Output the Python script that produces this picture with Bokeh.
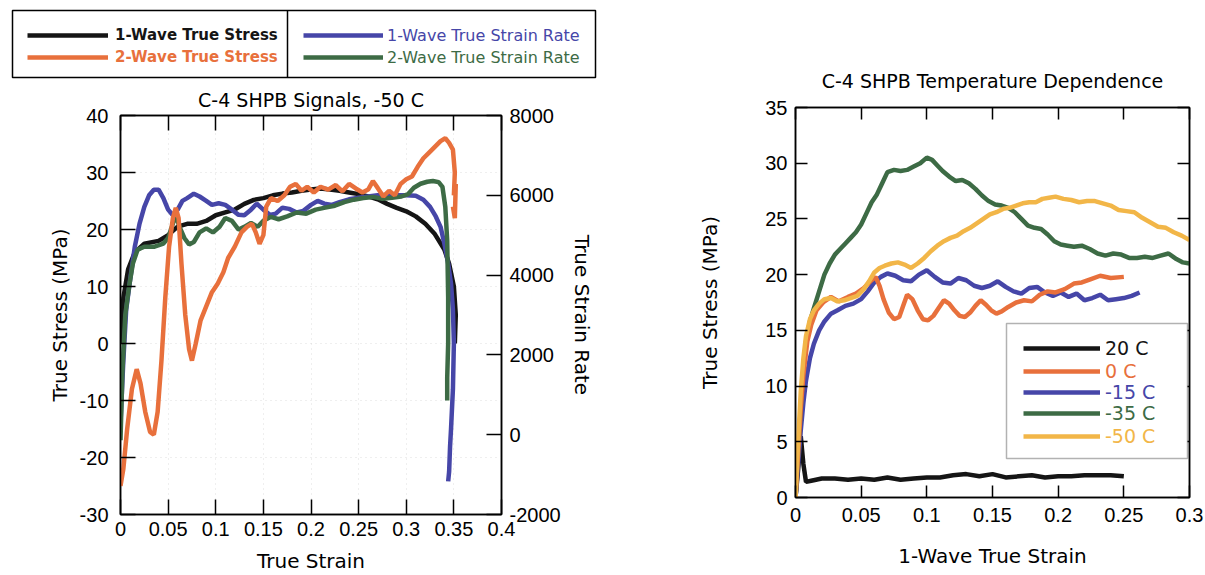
from bokeh.plotting import figure
from bokeh.models import (Range1d, LinearAxis, FixedTicker, CustomJSTickFormatter,
                          Legend, LegendItem, BoxAnnotation, Span)
from bokeh.layouts import row, column
from bokeh.embed import file_html
from bokeh.resources import INLINE

# ---------------- data: left chart (C-4 SHPB Signals, -50 C) ----------------
strain_1w_stress = [0.0, 0.003, 0.008, 0.015, 0.025, 0.04, 0.05, 0.06, 0.07, 0.08, 0.09, 0.1, 0.11,
                    0.12, 0.13, 0.14, 0.15, 0.16, 0.17, 0.18, 0.19, 0.2, 0.21, 0.22, 0.23, 0.24, 0.25,
                    0.26, 0.27, 0.28, 0.29, 0.3, 0.31, 0.32, 0.33, 0.34, 0.345, 0.35, 0.352, 0.351]
stress_1w = [0, 8, 13, 16, 17.5, 18, 19, 20.5, 21, 21, 21.5, 22.5, 23, 23.5, 24.5, 25.2, 25.5, 26,
             26.3, 26.5, 26.8, 27, 27.2, 27, 26.8, 26.5, 26.2, 25.8, 25.3, 24.5, 23.8, 23.2, 22.3,
             21, 19.2, 16.5, 14, 10, 5, 0]

strain_2w_stress = [0.0, 0.003, 0.007, 0.012, 0.017, 0.021, 0.026, 0.031, 0.035, 0.039, 0.043, 0.047,
                    0.051, 0.055, 0.058, 0.061, 0.064, 0.068, 0.072, 0.075, 0.079, 0.084, 0.09, 0.096,
                    0.102, 0.108, 0.113, 0.12, 0.127, 0.133, 0.138, 0.142, 0.146, 0.15, 0.153, 0.158,
                    0.165, 0.172, 0.178, 0.184, 0.19, 0.196, 0.203, 0.21, 0.218, 0.226, 0.233, 0.24,
                    0.247, 0.254, 0.26, 0.265, 0.27, 0.276, 0.282, 0.288, 0.294, 0.3, 0.306, 0.312,
                    0.318, 0.324, 0.33, 0.336, 0.341, 0.345, 0.349, 0.351, 0.35, 0.352, 0.351, 0.349]
stress_2w = [-25, -22, -15, -8, -4.5, -7, -12, -15.5, -16, -12, -3, 8, 17, 22, 23.8, 22, 14, 5, -1,
             -3, 0, 4, 6.5, 9, 10.5, 12.5, 15, 17, 19.5, 20.5, 21, 19.5, 17.5, 19, 24, 25.5, 25, 26,
             27.5, 28, 26.8, 27.5, 26.5, 27.5, 27, 27.8, 26.7, 28, 27.2, 26.5, 27, 28.5, 27.3, 25.8,
             26.8, 26, 28, 28.8, 29.3, 31, 32.5, 33.5, 34.5, 35.5, 36, 35.2, 34, 30, 26, 28, 22, 24]

strain_1w_rate = [0, 0.003, 0.006, 0.01, 0.015, 0.02, 0.025, 0.03, 0.035, 0.04, 0.045, 0.05, 0.055,
                  0.06, 0.065, 0.07, 0.077, 0.083, 0.09, 0.096, 0.103, 0.11, 0.117, 0.124, 0.13,
                  0.137, 0.143, 0.15, 0.157, 0.163, 0.17, 0.177, 0.185, 0.192, 0.2, 0.207, 0.214,
                  0.222, 0.23, 0.24, 0.25, 0.26, 0.27, 0.28, 0.29, 0.3, 0.31, 0.318, 0.325, 0.331,
                  0.336, 0.34, 0.344, 0.347, 0.349, 0.35, 0.349, 0.347, 0.346, 0.345, 0.344]
rate_1w = [290, 1860, 3140, 3860, 4710, 5290, 5710, 6000, 6140, 6140, 5930, 5640, 5500, 5640, 5860,
           5930, 6040, 5970, 5860, 5760, 5800, 5760, 5640, 5510, 5500, 5640, 5790, 5640, 5510, 5540,
           5690, 5660, 5570, 5610, 5760, 5860, 5790, 5760, 5830, 5900, 5940, 5970, 6000, 6010, 6000,
           6000, 5990, 5890, 5710, 5470, 5210, 4790, 4290, 3790, 3140, 2290, 1140, 140, -290, -930,
           -1170]

strain_2w_rate = [0, 0.002, 0.005, 0.009, 0.013, 0.018, 0.025, 0.035, 0.045, 0.05, 0.055, 0.058,
                  0.062, 0.067, 0.072, 0.077, 0.083, 0.09, 0.097, 0.104, 0.11, 0.117, 0.124, 0.13,
                  0.137, 0.144, 0.15, 0.158, 0.166, 0.175, 0.185, 0.195, 0.205, 0.215, 0.225, 0.235,
                  0.245, 0.255, 0.265, 0.275, 0.285, 0.295, 0.302, 0.308, 0.315, 0.322, 0.328, 0.334,
                  0.338, 0.341, 0.343, 0.344, 0.344, 0.343, 0.343]
rate_2w = [-140, 1570, 3000, 3710, 4290, 4640, 4710, 4710, 4790, 4930, 5290, 5500, 5210, 4930, 4770,
           4830, 5070, 5170, 5070, 5210, 5430, 5360, 5140, 5210, 5310, 5210, 5360, 5460, 5400, 5470,
           5570, 5540, 5640, 5690, 5740, 5830, 5890, 5930, 5960, 5910, 5940, 5970, 6030, 6190, 6290,
           6340, 6360, 6330, 6210, 5710, 4860, 3430, 2290, 1430, 860]

left_x_ticks = [0, 0.05, 0.1, 0.15, 0.2, 0.25, 0.3, 0.35, 0.4]
left_y_ticks = [-30, -20, -10, 0, 10, 20, 30, 40]
rate_ticks = [-2000, 0, 2000, 4000, 6000, 8000]

# ---------------- data: right chart (temperature dependence) ----------------
strain_20 = [0, 0.002, 0.004, 0.006, 0.008, 0.012, 0.02, 0.03, 0.04, 0.05, 0.06, 0.07, 0.08, 0.09,
             0.1, 0.11, 0.12, 0.13, 0.14, 0.15, 0.16, 0.17, 0.18, 0.19, 0.2, 0.21, 0.22, 0.23, 0.24, 0.25]
stress_20 = [0, 2.5, 5.5, 3.0, 1.4, 1.5, 1.7, 1.7, 1.6, 1.7, 1.6, 1.8, 1.6, 1.7, 1.8, 1.8, 2.0, 2.1,
             1.9, 2.1, 1.8, 1.9, 2.0, 1.8, 1.9, 1.9, 2.0, 2.0, 2.0, 1.9]

strain_0 = [0, 0.002, 0.004, 0.006, 0.009, 0.012, 0.016, 0.021, 0.027, 0.033, 0.04, 0.046, 0.052,
            0.057, 0.061, 0.064, 0.067, 0.071, 0.075, 0.079, 0.082, 0.085, 0.089, 0.093, 0.097, 0.101,
            0.105, 0.109, 0.113, 0.117, 0.121, 0.125, 0.129, 0.133, 0.137, 0.141, 0.145, 0.149,
            0.153, 0.157, 0.162, 0.168, 0.174, 0.18, 0.186, 0.192, 0.198, 0.205, 0.212, 0.218,
            0.225, 0.232, 0.24, 0.25]
stress_0 = [0, 4, 8, 11, 14, 15.5, 16.8, 17.5, 18, 17.6, 18, 18.3, 18.8, 19.4, 19.8, 19.0, 17.8, 16.6,
            16.0, 16.2, 17.2, 18.2, 17.8, 16.8, 16.0, 15.9, 16.3, 17.0, 17.7, 17.4, 16.8, 16.3, 16.2,
            16.6, 17.2, 17.7, 17.3, 16.8, 16.5, 16.7, 17.1, 17.5, 17.7, 17.6, 18.2, 18.5, 18.4, 18.7,
            19.2, 19.3, 19.6, 19.9, 19.7, 19.8]

strain_m15 = [0, 0.002, 0.004, 0.006, 0.008, 0.011, 0.014, 0.018, 0.022, 0.027, 0.032, 0.038, 0.044,
              0.05, 0.055, 0.06, 0.065, 0.07, 0.076, 0.082, 0.088, 0.094, 0.1, 0.106, 0.112, 0.118,
              0.124, 0.13, 0.136, 0.142, 0.148, 0.154, 0.16, 0.166, 0.172, 0.178, 0.184, 0.19, 0.196,
              0.202, 0.208, 0.214, 0.22, 0.226, 0.232, 0.238, 0.244, 0.25, 0.256, 0.262]
stress_m15 = [0, 3, 6, 8.5, 10.5, 12.5, 13.8, 15, 15.8, 16.5, 16.8, 17.2, 17.4, 17.8, 18.5, 19.3, 19.8,
              20.1, 19.9, 19.5, 19.4, 20.0, 20.4, 19.8, 19.3, 19.2, 19.7, 19.5, 19.0, 18.8, 19.0, 19.4,
              18.9, 18.5, 18.3, 18.8, 18.9, 18.4, 18.1, 18.4, 18.0, 18.3, 17.7, 17.9, 18.2, 17.7,
              17.8, 17.9, 18.1, 18.4]

strain_m35 = [0, 0.002, 0.004, 0.006, 0.008, 0.011, 0.014, 0.018, 0.022, 0.026, 0.03, 0.034, 0.038,
              0.042, 0.046, 0.05, 0.054, 0.058, 0.062, 0.066, 0.07, 0.075, 0.08, 0.085, 0.09, 0.095,
              0.1, 0.104, 0.108, 0.112, 0.117, 0.122, 0.127, 0.132, 0.137, 0.142, 0.147, 0.152, 0.157,
              0.162, 0.167, 0.172, 0.177, 0.182, 0.187, 0.192, 0.197, 0.202, 0.207, 0.212, 0.218,
              0.224, 0.23, 0.236, 0.242, 0.248, 0.254, 0.26, 0.266, 0.272, 0.278, 0.284, 0.29, 0.295, 0.3]
stress_m35 = [0, 4, 8, 11.5, 14, 15.8, 17, 18.5, 20, 21, 21.8, 22.3, 22.8, 23.3, 23.8, 24.5, 25.5,
              26.5, 27.2, 28.2, 29.2, 29.4, 29.3, 29.4, 29.7, 30.0, 30.5, 30.3, 29.8, 29.3, 28.8, 28.4,
              28.5, 28.2, 27.7, 27.1, 26.6, 26.3, 26.2, 26.0, 25.6, 25.0, 24.4, 24.2, 24.1, 23.6, 23.0,
              22.7, 22.6, 22.5, 22.6, 22.3, 21.9, 21.7, 21.9, 21.8, 21.5, 21.5, 21.6, 21.5, 21.7, 21.9,
              21.4, 21.1, 21.0]

strain_m50 = [0, 0.002, 0.004, 0.006, 0.008, 0.011, 0.014, 0.018, 0.022, 0.027, 0.032, 0.037, 0.042,
              0.047, 0.052, 0.056, 0.06, 0.064, 0.068, 0.073, 0.078, 0.083, 0.088, 0.093, 0.098, 0.103,
              0.108, 0.113, 0.118, 0.123, 0.128, 0.133, 0.138, 0.143, 0.148, 0.153, 0.158, 0.163,
              0.168, 0.173, 0.178, 0.183, 0.188, 0.193, 0.198, 0.204, 0.21, 0.216, 0.222, 0.228,
              0.234, 0.24, 0.246, 0.252, 0.258, 0.264, 0.27, 0.276, 0.282, 0.288, 0.294, 0.3]
stress_m50 = [0, 5, 9.5, 12.5, 14.5, 16, 16.8, 17.4, 17.8, 17.9, 17.6, 17.7, 17.9, 18.1, 18.7, 19.4,
              20.2, 20.6, 20.8, 21.0, 21.1, 20.9, 20.6, 21.0, 21.5, 22.1, 22.6, 23.0, 23.3, 23.5, 23.9,
              24.2, 24.6, 25.0, 25.4, 25.6, 25.9, 26.0, 26.2, 26.4, 26.5, 26.5, 26.8, 26.9, 27.0, 26.8,
              26.7, 26.5, 26.6, 26.6, 26.4, 26.2, 25.8, 25.7, 25.6, 25.1, 24.7, 24.3, 24.2, 23.8,
              23.5, 23.1]

right_x_ticks = [0, 0.05, 0.1, 0.15, 0.2, 0.25, 0.3]
right_y_ticks = [0, 5, 10, 15, 20, 25, 30, 35]

# ---------------- styling ----------------
NUM_FONT = "Liberation Sans"
TXT_FONT = "DejaVu Sans"
BLACK = "#151515"
ORANGE = "#E8703C"
BLUE = "#4646A8"
GREEN = "#3D6B45"
YELLOW = "#F2B648"
LW = 4.5
NAN = float("nan")

x_fmt_js = """
let s = tick.toFixed(2);
s = s.replace(/0+$/, '').replace(/\\.$/, '');
return s;
"""
y_fmt_js = "return String(tick);"


def no_align(fig):
    if "frame_align" in fig.properties():
        fig.frame_align = False


def style_axis(ax, tick_in, standoff, label_standoff=None, hide_labels=False):
    ax.major_tick_in = tick_in
    ax.major_tick_out = 0
    ax.minor_tick_line_color = None
    ax.axis_line_color = "black"
    ax.axis_line_width = 1.5
    ax.major_tick_line_color = "black"
    ax.major_tick_line_width = 1.5
    ax.major_label_text_font = NUM_FONT
    ax.major_label_standoff = standoff
    if hide_labels:
        ax.major_label_text_font_size = "1px"
        ax.major_label_text_color = None
        ax.major_label_text_alpha = 0
    else:
        ax.major_label_text_font_size = "20px"
        ax.major_label_text_color = "black"
    ax.axis_label_text_font = TXT_FONT
    ax.axis_label_text_font_style = "normal"
    ax.axis_label_text_font_size = "20px"
    ax.axis_label_text_color = "black"
    if label_standoff is not None:
        ax.axis_label_standoff = label_standoff


def single_legend(fig, renderer, label, color, x, y, glyph_w, standoff, size, bold=False):
    leg = Legend(items=[LegendItem(label=label, renderers=[renderer])], location=(x, y),
                 border_line_color=None, background_fill_color=None, background_fill_alpha=0,
                 padding=0, margin=0, spacing=0, glyph_width=glyph_w, glyph_height=20,
                 label_height=20, label_standoff=standoff, label_text_font=TXT_FONT,
                 label_text_font_size=size, label_text_color=color,
                 label_text_font_style="bold" if bold else "normal")
    fig.add_layout(leg)


# ---------------- legend panel above the left chart ----------------
leg_fig = figure(width=640, height=80, x_range=Range1d(0, 583), y_range=Range1d(0, 67),
                 x_axis_location=None, y_axis_location=None, toolbar_location=None,
                 output_backend="svg", min_border_left=12, min_border_right=45,
                 min_border_top=10, min_border_bottom=3)
no_align(leg_fig)
leg_fig.grid.visible = False
leg_fig.outline_line_color = "black"
leg_fig.outline_line_width = 1.5
# legend-only proxy renderers (a single undefined point draws nothing in the panel)
lr1 = leg_fig.line(x=[NAN], y=[NAN], line_color=BLACK, line_width=LW)
lr2 = leg_fig.line(x=[NAN], y=[NAN], line_color=ORANGE, line_width=LW)
lr3 = leg_fig.line(x=[NAN], y=[NAN], line_color=BLUE, line_width=LW)
lr4 = leg_fig.line(x=[NAN], y=[NAN], line_color=GREEN, line_width=LW)
leg_fig.add_layout(Span(location=275, dimension="height", line_color="black", line_width=1.5))
single_legend(leg_fig, lr1, "1-Wave True Stress", BLACK, 15, 32, 81, 7, "15px", bold=True)
single_legend(leg_fig, lr2, "2-Wave True Stress", ORANGE, 15, 10, 81, 7, "15px", bold=True)
single_legend(leg_fig, lr3, "1-Wave True Strain Rate", BLUE, 291, 32, 80, 4, "16px")
single_legend(leg_fig, lr4, "2-Wave True Strain Rate", GREEN, 291, 10, 80, 4, "16px")

# ---------------- left chart ----------------
p1 = figure(width=640, height=495, x_range=Range1d(0, 0.4), y_range=Range1d(-30, 40),
            toolbar_location=None, output_backend="svg",
            min_border_left=120, min_border_right=139, min_border_top=35, min_border_bottom=58,
            title="C-4 SHPB Signals, -50 C")
no_align(p1)
p1.extra_y_ranges = {"rate": Range1d(-2000, 8000)}
p1.xgrid.ticker = FixedTicker(ticks=left_x_ticks)
p1.ygrid.ticker = FixedTicker(ticks=left_y_ticks)
p1.grid.grid_line_color = "#c8c8c8"
p1.grid.grid_line_dash = "1 4"
p1.grid.grid_line_alpha = 0.6
p1.outline_line_color = "black"
p1.outline_line_width = 1.5
p1.title.align = "center"
p1.title.text_font = TXT_FONT
p1.title.text_font_size = "19px"
p1.title.text_font_style = "normal"
p1.title.text_color = "black"
p1.title.standoff = 10

ax_b = p1.below[0]
ax_b.ticker = FixedTicker(ticks=left_x_ticks)
ax_b.formatter = CustomJSTickFormatter(code=x_fmt_js)
ax_b.axis_label = "True Strain"
style_axis(ax_b, 15, 7, 10)

ax_l = p1.left[0]
ax_l.ticker = FixedTicker(ticks=left_y_ticks)
ax_l.formatter = CustomJSTickFormatter(code=y_fmt_js)
ax_l.axis_label = "True Stress (MPa)"
style_axis(ax_l, 15, 12, 5)

ax_r = LinearAxis(y_range_name="rate", ticker=FixedTicker(ticks=rate_ticks),
                  formatter=CustomJSTickFormatter(code=y_fmt_js),
                  axis_label="True Strain Rate")
style_axis(ax_r, 15, 8, 6)
p1.add_layout(ax_r, "right")

ax_t = LinearAxis(ticker=FixedTicker(ticks=left_x_ticks))
style_axis(ax_t, 15, 0, hide_labels=True)
p1.add_layout(ax_t, "above")

p1.line(strain_1w_stress, stress_1w, line_color=BLACK, line_width=LW)
p1.line(strain_1w_rate, rate_1w, y_range_name="rate", line_color=BLUE, line_width=LW)
p1.line(strain_2w_rate, rate_2w, y_range_name="rate", line_color=GREEN, line_width=LW)
p1.line(strain_2w_stress, stress_2w, line_color=ORANGE, line_width=LW)

# ---------------- right chart ----------------
p2 = figure(width=565, height=575, x_range=Range1d(0, 0.3), y_range=Range1d(0, 35),
            toolbar_location=None, output_backend="svg",
            min_border_left=155, min_border_right=16, min_border_top=107, min_border_bottom=78,
            title="C-4 SHPB Temperature Dependence")
no_align(p2)
p2.grid.visible = False
p2.outline_line_color = "black"
p2.outline_line_width = 1.5
p2.title.align = "center"
p2.title.text_font = TXT_FONT
p2.title.text_font_size = "19px"
p2.title.text_font_style = "normal"
p2.title.text_color = "black"
p2.title.standoff = 31

bx = p2.below[0]
bx.ticker = FixedTicker(ticks=right_x_ticks)
bx.formatter = CustomJSTickFormatter(code=x_fmt_js)
bx.axis_label = "1-Wave True Strain"
style_axis(bx, 12, 10, 19)

ly = p2.left[0]
ly.ticker = FixedTicker(ticks=right_y_ticks)
ly.formatter = CustomJSTickFormatter(code=y_fmt_js)
ly.axis_label = "True Stress (MPa)"
style_axis(ly, 12, 8, 40)

rt = LinearAxis(ticker=FixedTicker(ticks=right_y_ticks))
style_axis(rt, 12, 0, hide_labels=True)
p2.add_layout(rt, "right")
tp = LinearAxis(ticker=FixedTicker(ticks=right_x_ticks))
style_axis(tp, 12, 0, hide_labels=True)
p2.add_layout(tp, "above")

r20 = p2.line(strain_20, stress_20, line_color=BLACK, line_width=LW)
rm15 = p2.line(strain_m15, stress_m15, line_color=BLUE, line_width=LW)
rm35 = p2.line(strain_m35, stress_m35, line_color=GREEN, line_width=LW)
r0 = p2.line(strain_0, stress_0, line_color=ORANGE, line_width=LW)
rm50 = p2.line(strain_m50, stress_m50, line_color=YELLOW, line_width=LW)

p2.add_layout(BoxAnnotation(left=211, right=392, bottom=39, top=174,
                            left_units="screen", right_units="screen",
                            top_units="screen", bottom_units="screen",
                            fill_color="white", fill_alpha=1.0,
                            line_color="black", line_width=1.5))
single_legend(p2, r20, "20 C", BLACK, 228, 138, 77, 5, "19px")
single_legend(p2, r0, "0 C", ORANGE, 228, 115, 77, 5, "19px")
single_legend(p2, rm15, "-15 C", BLUE, 228, 94, 77, 5, "19px")
single_legend(p2, rm35, "-35 C", GREEN, 228, 73, 77, 5, "19px")
single_legend(p2, rm50, "-50 C", YELLOW, 228, 50, 77, 5, "19px")

layout = row(column(leg_fig, p1, spacing=0), p2, spacing=0)
open("out.html", "w").write(file_html(layout, INLINE))
